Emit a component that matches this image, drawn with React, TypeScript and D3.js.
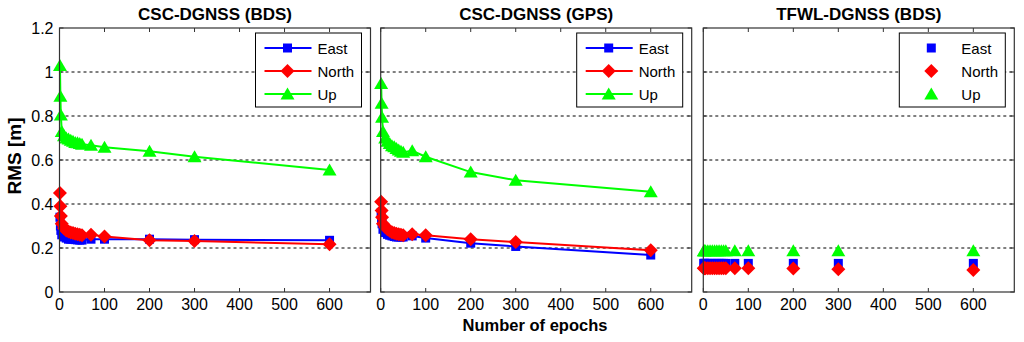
import React, { useRef, useEffect } from 'react';
import * as d3 from 'd3';

// epochs used by every run
const epochs = [1, 2, 3, 5, 10, 15, 20, 25, 30, 35, 40, 45, 50, 70, 100, 200, 300, 600];

const bdsEast = [0.34, 0.3, 0.28, 0.26, 0.25, 0.245, 0.24, 0.24, 0.24, 0.238, 0.237, 0.236, 0.236, 0.24, 0.24, 0.24, 0.238, 0.235];
const bdsNorth = [0.45, 0.39, 0.345, 0.31, 0.29, 0.28, 0.275, 0.27, 0.268, 0.265, 0.262, 0.26, 0.258, 0.26, 0.252, 0.235, 0.232, 0.217];
const bdsUp = [1.03, 0.89, 0.805, 0.73, 0.71, 0.7, 0.695, 0.69, 0.685, 0.68, 0.678, 0.675, 0.672, 0.667, 0.658, 0.64, 0.615, 0.555];

const gpsEast = [0.36, 0.33, 0.31, 0.285, 0.27, 0.262, 0.258, 0.255, 0.252, 0.25, 0.25, 0.25, 0.25, 0.255, 0.245, 0.222, 0.207, 0.168];
const gpsNorth = [0.41, 0.37, 0.34, 0.31, 0.295, 0.285, 0.278, 0.272, 0.268, 0.265, 0.262, 0.26, 0.258, 0.262, 0.258, 0.24, 0.227, 0.19];
const gpsUp = [0.948, 0.858, 0.794, 0.73, 0.7, 0.685, 0.675, 0.665, 0.66, 0.652, 0.645, 0.64, 0.635, 0.642, 0.615, 0.545, 0.508, 0.456];

const tfwlEast = [0.13, 0.13, 0.13, 0.13, 0.13, 0.13, 0.13, 0.13, 0.13, 0.13, 0.13, 0.13, 0.13, 0.13, 0.13, 0.13, 0.13, 0.13];
const tfwlNorth = [0.108, 0.108, 0.108, 0.108, 0.108, 0.108, 0.108, 0.108, 0.108, 0.108, 0.108, 0.108, 0.108, 0.108, 0.108, 0.107, 0.103, 0.1];
const tfwlUp = [0.187, 0.187, 0.187, 0.187, 0.187, 0.187, 0.187, 0.187, 0.187, 0.187, 0.187, 0.187, 0.187, 0.187, 0.187, 0.187, 0.187, 0.187];

const seriesNames = ['East', 'North', 'Up'];
const seriesColors = ['#0000ff', '#ff0000', '#00ff00'];
const xTicks = [0, 100, 200, 300, 400, 500, 600];
const yTicks = [0, 0.2, 0.4, 0.6, 0.8, 1, 1.2];

const panels = [
  { title: 'CSC-DGNSS (BDS)', series: [bdsEast, bdsNorth, bdsUp], lines: true, left: 59.5, yLabels: true },
  { title: 'CSC-DGNSS (GPS)', series: [gpsEast, gpsNorth, gpsUp], lines: true, left: 380.7, yLabels: false },
  { title: 'TFWL-DGNSS (BDS)', series: [tfwlEast, tfwlNorth, tfwlUp], lines: false, left: 703.3, yLabels: false },
];

const FONT = 'Arial, "Liberation Sans", Helvetica, sans-serif';

// MATLAB-like marker shapes
function markerPath(kind: number): string {
  if (kind === 0) return 'M-4.5,-4.5L4.5,-4.5L4.5,4.5L-4.5,4.5Z';
  if (kind === 1) return 'M0,-7L7,0L0,7L-7,0Z';
  return 'M0,-6.5L7,5.5L-7,5.5Z';
}

export default function App() {
  const ref = useRef<SVGSVGElement>(null);

  useEffect(() => {
    const svg = d3.select(ref.current);
    svg.selectAll('*').remove();

    const width = 1024;
    const height = 342;
    const top = 28;
    const bottom = 292;
    const pw = 311;

    svg.attr('viewBox', `0 0 ${width} ${height}`);
    svg.append('rect').attr('width', width).attr('height', height).attr('fill', '#fff');

    const y = d3.scaleLinear().domain([0, 1.2]).range([bottom, top]);

    panels.forEach((p) => {
      const x = d3.scaleLinear().domain([0, 691]).range([p.left, p.left + pw]);
      const g = svg.append('g');

      // grid
      g.selectAll('.grid')
        .data(yTicks.filter((t) => t > 0 && t < 1.2))
        .enter()
        .append('line')
        .attr('x1', p.left)
        .attr('x2', p.left + pw)
        .attr('y1', (d) => y(d))
        .attr('y2', (d) => y(d))
        .attr('stroke', '#000')
        .attr('stroke-width', 1)
        .attr('stroke-dasharray', '3,3');

      // inner ticks on all sides
      xTicks.forEach((t) => {
        g.append('line').attr('x1', x(t)).attr('x2', x(t)).attr('y1', bottom).attr('y2', bottom - 4).attr('stroke', '#333');
        g.append('line').attr('x1', x(t)).attr('x2', x(t)).attr('y1', top).attr('y2', top + 4).attr('stroke', '#333');
        g.append('text')
          .attr('x', x(t))
          .attr('y', 310)
          .attr('text-anchor', 'middle')
          .attr('font-family', FONT)
          .attr('font-size', 16)
          .attr('fill', '#000')
          .text(String(t));
      });
      yTicks.forEach((t) => {
        g.append('line').attr('x1', p.left).attr('x2', p.left + 4).attr('y1', y(t)).attr('y2', y(t)).attr('stroke', '#333');
        g.append('line').attr('x1', p.left + pw).attr('x2', p.left + pw - 4).attr('y1', y(t)).attr('y2', y(t)).attr('stroke', '#333');
        if (p.yLabels) {
          g.append('text')
            .attr('x', p.left - 6)
            .attr('y', y(t) + 5.5)
            .attr('text-anchor', 'end')
            .attr('font-family', FONT)
            .attr('font-size', 16)
            .attr('fill', '#000')
            .text(String(t));
        }
      });

      // series
      p.series.forEach((vals, i) => {
        const pts = epochs.map((e, k) => [x(e), y(vals[k])] as [number, number]);
        if (p.lines) {
          g.append('path')
            .datum(pts)
            .attr('fill', 'none')
            .attr('stroke', seriesColors[i])
            .attr('stroke-width', 2)
            .attr('d', d3.line());
        }
        g.selectAll(`.m${i}`)
          .data(pts)
          .enter()
          .append('path')
          .attr('transform', (d) => `translate(${d[0]},${d[1]})`)
          .attr('d', markerPath(i))
          .attr('fill', seriesColors[i]);
      });

      // frame
      g.append('rect')
        .attr('x', p.left)
        .attr('y', top)
        .attr('width', pw)
        .attr('height', bottom - top)
        .attr('fill', 'none')
        .attr('stroke', '#333')
        .attr('stroke-width', 1.2);

      // title
      g.append('text')
        .attr('x', p.left + pw / 2)
        .attr('y', 20)
        .attr('text-anchor', 'middle')
        .attr('font-family', FONT)
        .attr('font-weight', 'bold')
        .attr('font-size', 17)
        .attr('fill', '#000')
        .text(p.title);

      // legend
      const lx = p.left + pw - 115;
      const lw = 106;
      const lg = g.append('g');
      lg.append('rect')
        .attr('x', lx)
        .attr('y', 33)
        .attr('width', lw)
        .attr('height', 74)
        .attr('fill', '#fff')
        .attr('stroke', '#000')
        .attr('stroke-width', 1);
      seriesNames.forEach((name, i) => {
        const ry = 48 + i * 23;
        if (p.lines) {
          lg.append('line')
            .attr('x1', lx + 9)
            .attr('x2', lx + 56)
            .attr('y1', ry)
            .attr('y2', ry)
            .attr('stroke', seriesColors[i])
            .attr('stroke-width', 2);
        }
        lg.append('path').attr('transform', `translate(${lx + 32},${ry})`).attr('d', markerPath(i)).attr('fill', seriesColors[i]);
        lg.append('text')
          .attr('x', lx + 62)
          .attr('y', ry + 5.5)
          .attr('font-family', FONT)
          .attr('font-size', 15)
          .attr('fill', '#000')
          .text(name);
      });
    });

    // axis labels
    svg.append('text')
      .attr('transform', `translate(21,156) rotate(-90)`)
      .attr('text-anchor', 'middle')
      .attr('font-family', FONT)
      .attr('font-weight', 'bold')
      .attr('font-size', 19)
      .attr('fill', '#000')
      .text('RMS [m]');

    svg.append('text')
      .attr('x', 535)
      .attr('y', 331)
      .attr('text-anchor', 'middle')
      .attr('font-family', FONT)
      .attr('font-weight', 'bold')
      .attr('font-size', 16.5)
      .attr('fill', '#000')
      .text('Number of epochs');
  }, []);

  return (
    <svg
      ref={ref}
      width={1024}
      height={342}
      style={{ position: 'absolute', left: 0, top: 0, display: 'block' }}
    />
  );
}
